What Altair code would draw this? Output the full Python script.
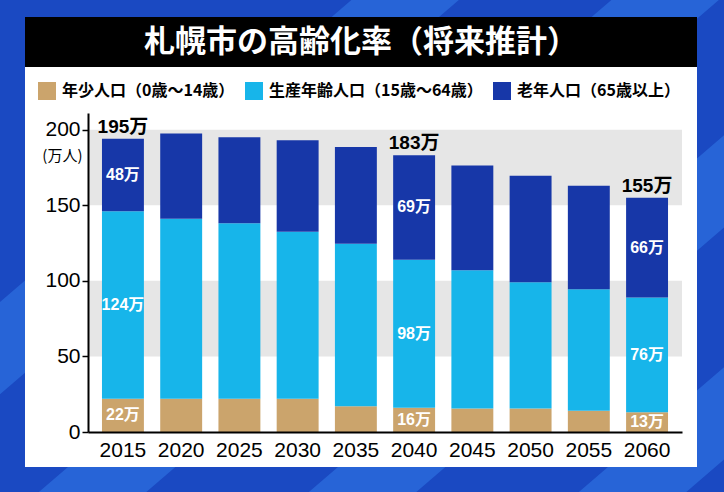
import altair as alt
import pandas as pd

# ---------------- data ----------------
years = ["2015", "2020", "2025", "2030", "2035", "2040", "2045", "2050", "2055", "2060"]
young = [22, 22, 22, 22, 17, 16, 15.5, 15.5, 14, 13]            # 年少人口 (万人)
working = [124, 119, 116, 110.5, 107.5, 98, 91.5, 83.5, 80.5, 76]  # 生産年齢人口
elderly = [48, 56.5, 57, 60.5, 64, 69, 69.3, 70.5, 68.3, 66]      # 老年人口
groups = ["年少人口（0歳〜14歳）", "生産年齢人口（15歳〜64歳）", "老年人口（65歳以上）"]
colors = ["#cba46c", "#17b5ea", "#1737a8"]
label_years = ["2015", "2040", "2060"]
total_labels = [195, 183, 155]
y_ticks = [0, 50, 100, 150, 200]
band_lo = [50, 150]
band_hi = [100, 200]
title_text = "札幌市の高齢化率（将来推計）"

JP = "Noto Sans CJK JP"
NUM = "Liberation Sans, Noto Sans CJK JP"

# ---------------- tables ----------------
rows = []
for i, yr in enumerate(years):
    for k, (g, arr) in enumerate(zip(groups, [young, working, elderly])):
        rows.append({"year": yr, "group": g, "value": arr[i], "idx": k})
bars_df = pd.DataFrame(rows)

seg_rows = []
for yr in label_years:
    i = years.index(yr)
    base = 0
    for arr in [young, working, elderly]:
        v = arr[i]
        seg_rows.append({"year": yr, "mid": base + v / 2, "label": f"{int(v)}万"})
        base += v
seg_df = pd.DataFrame(seg_rows)

tot_df = pd.DataFrame({
    "year": label_years,
    "top": [young[years.index(y)] + working[years.index(y)] + elderly[years.index(y)] for y in label_years],
    "label": [f"{t}万" for t in total_labels],
})
band_df = pd.DataFrame({"lo": band_lo, "hi": band_hi})
one = pd.DataFrame({"a": [0]})

W, H = 594, 319
yscale = alt.Scale(domain=[0, 211], nice=False)
xscale = alt.Scale(domain=years, paddingInner=0.28, paddingOuter=0.24)

# ---------------- decorative background ----------------
layers = []
for x0 in [-200, 60, 330, 600, 870]:
    layers.append(
        alt.Chart(one).mark_rule(color="#2b6cdc", strokeWidth=70, opacity=0.8).encode(
            x=alt.value(x0 - 88), y=alt.value(520 - 113),
            x2=alt.value(x0 + 640 - 88), y2=alt.value(-30 - 113)
        )
    )
layers.append(
    alt.Chart(one).mark_rect(color="white").encode(
        x=alt.value(-63), x2=alt.value(609), y=alt.value(-46), y2=alt.value(354)
    )
)
layers.append(
    alt.Chart(one).mark_rect(color="black").encode(
        x=alt.value(-63), x2=alt.value(609), y=alt.value(-96), y2=alt.value(-46)
    )
)
layers.append(
    alt.Chart(one).mark_text(
        text=title_text, color="white", font=JP, fontWeight="bold", fontSize=31,
        align="center", baseline="middle"
    ).encode(x=alt.value(273), y=alt.value(-70))
)

# ---------------- chart ----------------
bands = alt.Chart(band_df).mark_rect(color="#e6e6e6").encode(
    x=alt.value(0), x2=alt.value(W),
    y=alt.Y("lo:Q", scale=yscale), y2="hi:Q"
)

bars = alt.Chart(bars_df).mark_bar().encode(
    x=alt.X("year:N", scale=xscale, sort=years, axis=alt.Axis(
        title=None, labelAngle=0, labelFontSize=21, labelColor="black", labelFont=NUM,
        ticks=False, domainColor="black", domainWidth=2, labelPadding=7, zindex=2)),
    y=alt.Y("value:Q", stack="zero", scale=yscale, axis=alt.Axis(
        values=y_ticks, title="(万人)", titleAngle=0, titleAlign="right", titleBaseline="middle",
        titleX=-6, titleY=42, titleFontSize=15, titleFontWeight="normal", titleFont=JP,
        titleColor="black", labelFontSize=21, labelColor="black", labelFont=NUM,
        domainColor="black", domainWidth=2, tickColor="black", tickSize=6, tickWidth=1.5,
        labelPadding=2, grid=False, zindex=2)),
    color=alt.Color("group:N", scale=alt.Scale(domain=groups, range=colors), legend=alt.Legend(
        title=None, orient="none", legendX=-50, legendY=-31, direction="horizontal",
        symbolType="square", symbolSize=324, symbolStrokeWidth=0, symbolOpacity=1,
        labelFontSize=16, labelFont=JP, labelFontWeight="bold", labelColor="black",
        labelLimit=400, labelOffset=6, columnPadding=10, padding=0, zindex=2)),
    order=alt.Order("idx:Q", sort="ascending"),
)

seg_text = alt.Chart(seg_df).mark_text(
    color="white", font=NUM, fontWeight="bold", fontSize=16, align="center", baseline="middle"
).encode(x=alt.X("year:N", scale=xscale, sort=years), y=alt.Y("mid:Q", scale=yscale), text="label:N")

tot_text = alt.Chart(tot_df).mark_text(
    color="black", font=NUM, fontWeight="bold", fontSize=19, align="center", baseline="alphabetic", dy=-6
).encode(x=alt.X("year:N", scale=xscale, sort=years), y=alt.Y("top:Q", scale=yscale), text="label:N")

chart = alt.layer(*layers, bands, bars, seg_text, tot_text).properties(
    width=W, height=H,
    autosize=alt.AutoSizeParams(type="none"),
    padding={"left": 88, "top": 113, "right": 42, "bottom": 60},
    background="#1a49c2",
).configure_view(stroke=None)

chart.save("out.html", embed_options={"renderer": "svg", "actions": False})
